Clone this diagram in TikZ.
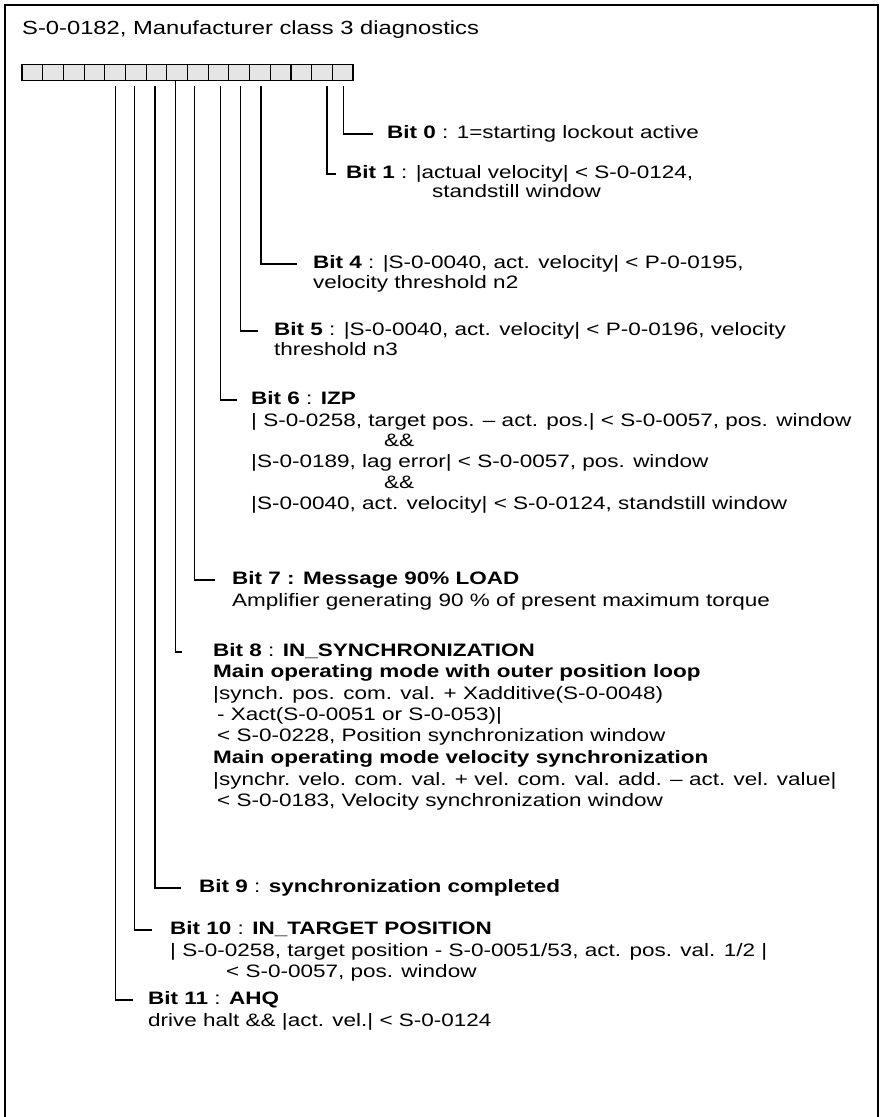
\documentclass[tikz,border=0pt]{standalone}
\usepackage{fontspec}
\setmainfont[FakeStretch=1.25]{Liberation Sans}
\begin{document}
\begin{tikzpicture}[x=1pt,y=-1pt,
  frame/.style={line width=2pt},
  bitbox/.style={draw, fill=black!10, line width=1.1pt, minimum width=20.69pt, minimum height=15.5pt, inner sep=0pt},
  conn/.style={line width=1.2pt},
  txt/.style={anchor=west, inner sep=0pt, text height=13pt, text depth=4pt, font=\fontsize{18}{21.5}\selectfont},
  ttl/.style={txt, font=\fontsize{19}{22}\selectfont}]
\useasboundingbox (0,0) rectangle (880,1117);
\draw[frame] (5,1117) -- (5,5) -- (878,5) -- (878,1117);
\node[ttl] (title) at (22,30) {S-0-0182, Manufacturer class 3 diagnostics};
\foreach \k in {0,...,15} \node[bitbox] (bit\k) at ({22+20.69*(15-\k+0.5)},72.5) {};

% Bit 0
\node[txt] (n0) at (387,134) {\textbf{Bit 0} : 1=starting lockout active};
% Bit 1
\node[txt] (n1) at (346,174) {\textbf{Bit 1} : |actual velocity| < S-0-0124,};
\node[txt] (n1a) at (432,193) {standstill window};
% Bit 4
\node[txt] (n4) at (313,264) {\textbf{Bit 4} : |S-0-0040, act. velocity| < P-0-0195,};
\node[txt] (n4a) at (313,284) {velocity threshold n2};
% Bit 5
\node[txt] (n5) at (274,331) {\textbf{Bit 5} : |S-0-0040, act. velocity| < P-0-0196, velocity};
\node[txt] (n5a) at (274,351) {threshold n3};
% Bit 6
\node[txt] (n6) at (251,400) {\textbf{Bit 6} : \textbf{IZP}};
\node[txt] (n6a) at (251,421.5) {| S-0-0258, target pos. – act. pos.| < S-0-0057, pos. window};
\node[txt] (n6b) at (384,442) {\&\&};
\node[txt] (n6c) at (251,463) {|S-0-0189, lag error| < S-0-0057, pos. window};
\node[txt] (n6d) at (384,484) {\&\&};
\node[txt] (n6e) at (251,505) {|S-0-0040, act. velocity| < S-0-0124, standstill window};
% Bit 7
\node[txt] (n7) at (232,580) {\textbf{Bit 7 : Message 90\% LOAD}};
\node[txt] (n7a) at (232,602) {Amplifier generating 90 \% of present maximum torque};
% Bit 8
\node[txt] (n8) at (213,652) {\textbf{Bit 8} : \textbf{IN\_SYNCHRONIZATION}};
\node[txt] (n8a) at (213,673) {\textbf{Main operating mode with outer position loop}};
\node[txt] (n8b) at (213,695) {|synch. pos. com. val. + Xadditive(S-0-0048)};
\node[txt] (n8c) at (217,716) {- Xact(S-0-0051 or S-0-053)|};
\node[txt] (n8d) at (217,737) {< S-0-0228, Position synchronization window};
\node[txt] (n8e) at (213,759) {\textbf{Main operating mode velocity synchronization}};
\node[txt] (n8f) at (213,781) {|synchr. velo. com. val. + vel. com. val. add. – act. vel. value|};
\node[txt] (n8g) at (217,802) {< S-0-0183, Velocity synchronization window};
% Bit 9
\node[txt] (n9) at (199,888) {\textbf{Bit 9} : \textbf{synchronization completed}};
% Bit 10
\node[txt] (n10) at (170,930) {\textbf{Bit 10} : \textbf{IN\_TARGET POSITION}};
\node[txt] (n10a) at (170,952) {| S-0-0258, target position - S-0-0051/53, act. pos. val. 1/2 |};
\node[txt] (n10b) at (226,973) {< S-0-0057, pos. window};
% Bit 11
\node[txt] (n11) at (148,1000) {\textbf{Bit 11} : \textbf{AHQ}};
\node[txt] (n11a) at (148,1022) {drive halt \&\& |act. vel.| < S-0-0124};

% connectors
\draw[conn,shorten >=14pt] ([xshift=0.6pt,yshift=-5pt]bit0.south) |- (n0.west);
\draw[conn,shorten >=10pt] ([xshift=5pt,yshift=-5pt]bit1.south) |- (n1.west);
\draw[conn,shorten >=16pt] ([xshift=1pt,yshift=-5pt]bit4.south) |- (n4.west);
\draw[conn,shorten >=16pt] ([xshift=1pt,yshift=-5pt]bit5.south) |- (n5.west);
\draw[conn,shorten >=14pt] ([xshift=2pt,yshift=-5pt]bit6.south) |- (n6.west);
\draw[conn,shorten >=17pt] ([xshift=-3pt,yshift=-5pt]bit7.south) |- (n7.west);
\draw[conn,shorten >=31pt] ([xshift=-2pt]bit8.south) |- (n8.west);
\draw[conn,shorten >=18pt] ([xshift=-1.5pt,yshift=-5pt]bit9.south) |- (n9.west);
\draw[conn,shorten >=18pt] ([xshift=-1pt,yshift=-5pt]bit10.south) |- (n10.west);
\draw[conn,shorten >=15pt] ([yshift=-5pt]bit11.south) |- (n11.west);
\end{tikzpicture}
\end{document}
